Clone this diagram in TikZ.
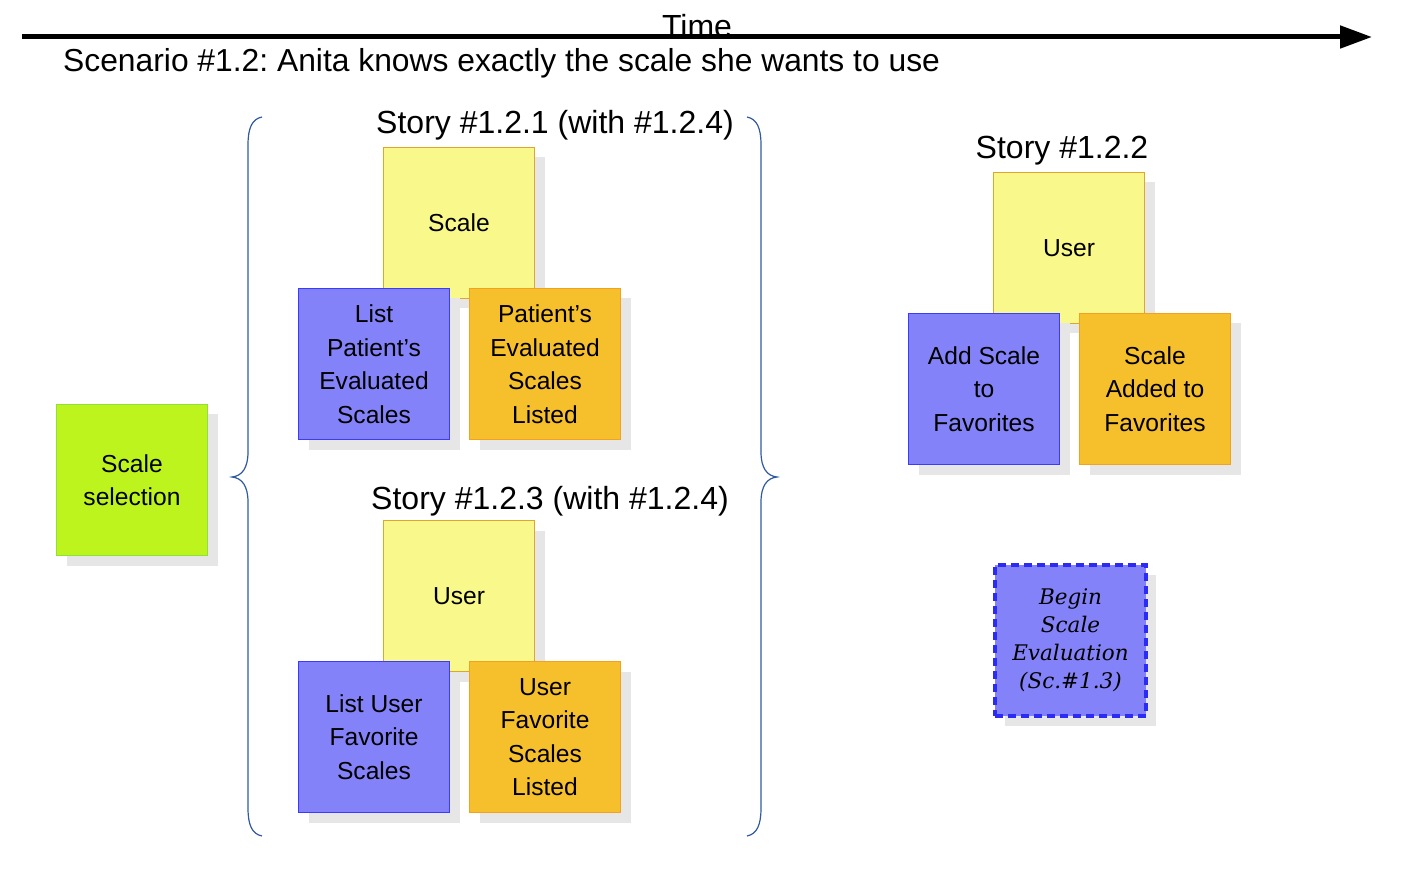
\documentclass[tikz,border=0pt]{standalone}
\usepackage{fontspec}
\setmainfont{Liberation Sans}
\newfontfamily\serifit{DejaVu Serif}
\usetikzlibrary{arrows.meta,shadows}
\frenchspacing
\definecolor{shadowgray}{HTML}{E6E6E6}
\definecolor{yfill}{HTML}{F9F88A}
\definecolor{ydraw}{HTML}{E0A52C}
\definecolor{bfill}{HTML}{8482F8}
\definecolor{bdraw}{HTML}{3B3BFF}
\definecolor{ofill}{HTML}{F6BF2C}
\definecolor{odraw}{HTML}{F4A11E}
\definecolor{gfill}{HTML}{BEF41E}
\definecolor{gdraw}{HTML}{8FE03A}
\definecolor{dashdraw}{HTML}{2B2BF5}
\definecolor{bracecol}{HTML}{2F5A9E}
\begin{document}
\begin{tikzpicture}[x=1pt,y=-1pt,
  note/.style={rectangle, anchor=north west, minimum width=151pt, minimum height=151pt,
    inner sep=0pt, align=center, font=\fontsize{24.6}{33.5}\selectfont, line width=1pt,
    general shadow={fill=shadowgray, shadow xshift=10pt, shadow yshift=-10pt}},
  yellownote/.style={note, fill=yfill, draw=ydraw},
  bluenote/.style={note, fill=bfill, draw=bdraw},
  orangenote/.style={note, fill=ofill, draw=odraw},
  greennote/.style={note, fill=gfill, draw=gdraw},
  dashnote/.style={note, fill=bfill, draw=dashdraw, line width=4pt, dash pattern=on 8pt off 5pt,
    font=\serifit\itshape\fontsize{21.5}{28}\selectfont},
  title/.style={inner sep=0pt, anchor=base, font=\fontsize{32}{38}\selectfont},
  brace/.style={draw=bracecol, line width=1.2pt}
]
\useasboundingbox (0,0) rectangle (1411,882);

% time arrow
\node[title] (time) at (697,38) {Time};
\coordinate (tstart) at (22,37);
\coordinate (tend) at (1372,37);
\draw[line width=5pt, -{Triangle[length=32pt,width=22pt]}] (tstart) -- (tend);

\node[title, anchor=base west, font=\fontsize{31.8}{38}\selectfont] (scenario) at (63,72)
  {Scenario \#1.2: Anita knows exactly the scale she wants to use};

% left group
\node[greennote] (sel) at (56,404) {Scale\\selection};

% braces
\draw[brace] (262,117) .. controls (252,119) and (248,128) .. (248,145) -- (248,452)
  .. controls (248,468) and (242,476) .. (232,477)
  .. controls (242,478) and (248,486) .. (248,502) -- (248,808)
  .. controls (248,825) and (252,834) .. (262,836);
\draw[brace] (747,117) .. controls (757,119) and (761,128) .. (761,145) -- (761,452)
  .. controls (761,468) and (767,476) .. (777,477)
  .. controls (767,478) and (761,486) .. (761,502) -- (761,808)
  .. controls (761,825) and (757,834) .. (747,836);

% Story 1.2.1
\node[title] (t121) at (555,134) {Story \#1.2.1 (with \#1.2.4)};
\node[yellownote] (scale1) at (383,147) {Scale};
\node[bluenote] (list1) at (298,288) {List\\Patient’s\\Evaluated\\Scales};
\node[orangenote] (listed1) at (469,288) {Patient’s\\Evaluated\\Scales\\Listed};

% Story 1.2.3
\node[title] (t123) at (550,509) {Story \#1.2.3 (with \#1.2.4)};
\node[yellownote] (user3) at (383,520) {User};
\node[bluenote] (list3) at (298,661) {List User\\Favorite\\Scales};
\node[orangenote] (listed3) at (469,661) {User\\Favorite\\Scales\\Listed};

% Story 1.2.2
\node[title] (t122) at (1062,159) {Story \#1.2.2};
\node[yellownote] (user2) at (993,172) {User};
\node[bluenote] (add2) at (908,313) {Add Scale\\to\\Favorites};
\node[orangenote] (added2) at (1079,313) {Scale\\Added to\\Favorites};

% next scenario
\node[dashnote] (begin) at (993,563) {Begin\\Scale\\Evaluation\\(Sc.\#1.3)};
\end{tikzpicture}
\end{document}
